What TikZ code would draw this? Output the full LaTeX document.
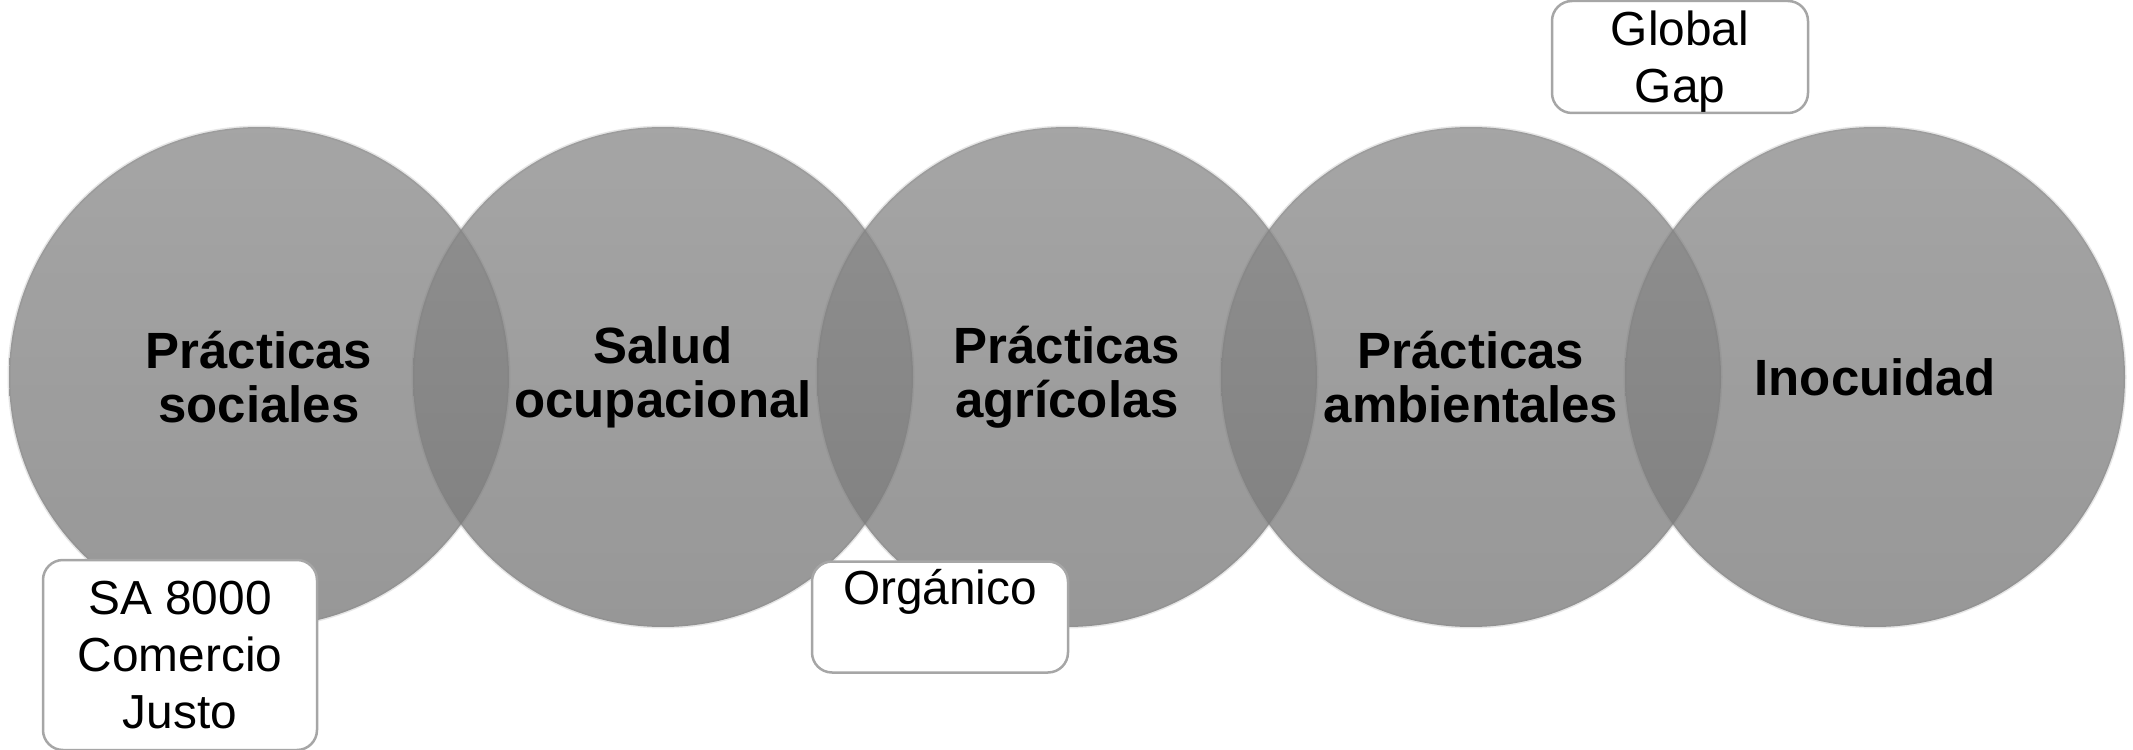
\documentclass[tikz,border=0pt]{standalone}
\usepackage{fontspec}
\setmainfont{Liberation Sans}
\usepackage{tikz}

\definecolor{venntop}{gray}{0.54}
\definecolor{vennbot}{gray}{0.47}
\definecolor{boxline}{gray}{0.65}

\begin{document}
\begin{tikzpicture}[x=0.1mm, y=-0.1mm,
	venn/.style={circle, minimum size=50mm, inner sep=0pt, top color=venntop, bottom color=vennbot,
		fill opacity=0.77, text opacity=1, draw=gray, draw opacity=0.2, line width=0.3mm,
		align=center, font=\fontsize{14.5}{15.3}\selectfont\bfseries},
	certbox/.style={draw=boxline, line width=0.25mm, rounded corners=2mm, fill=white, inner sep=0pt,
		align=center, font=\fontsize{13.6}{16.2}\selectfont}]
	\useasboundingbox (0, 0) rectangle (2133, 750);
	% circles
	\node[venn] (social) at (259, 377) {Prácticas\\sociales};
	\node[venn] (salud) at (663, 377) {Salud\\ocupacional};
	\node[venn] (agri) at (1067, 377) {Prácticas\\agrícolas};
	\node[venn] (amb) at (1471, 377) {Prácticas\\ambientales};
	\node[venn] (inoc) at (1875, 377) {Inocuidad};
	% certificaciones
	\node[certbox, minimum width=27.4mm, minimum height=19mm] (sa) at (180, 655) {SA 8000\\Comercio\\Justo};
	\node[certbox, minimum width=25.6mm, minimum height=11.1mm, text height=3.4mm, text depth=5.9mm] (org) at (940, 617) {Orgánico};
	\node[certbox, minimum width=25.6mm, minimum height=11.2mm, text height=27.5pt, text depth=1.5pt] (gap) at (1680, 57) {Global\\Gap};
\end{tikzpicture}
\end{document}
